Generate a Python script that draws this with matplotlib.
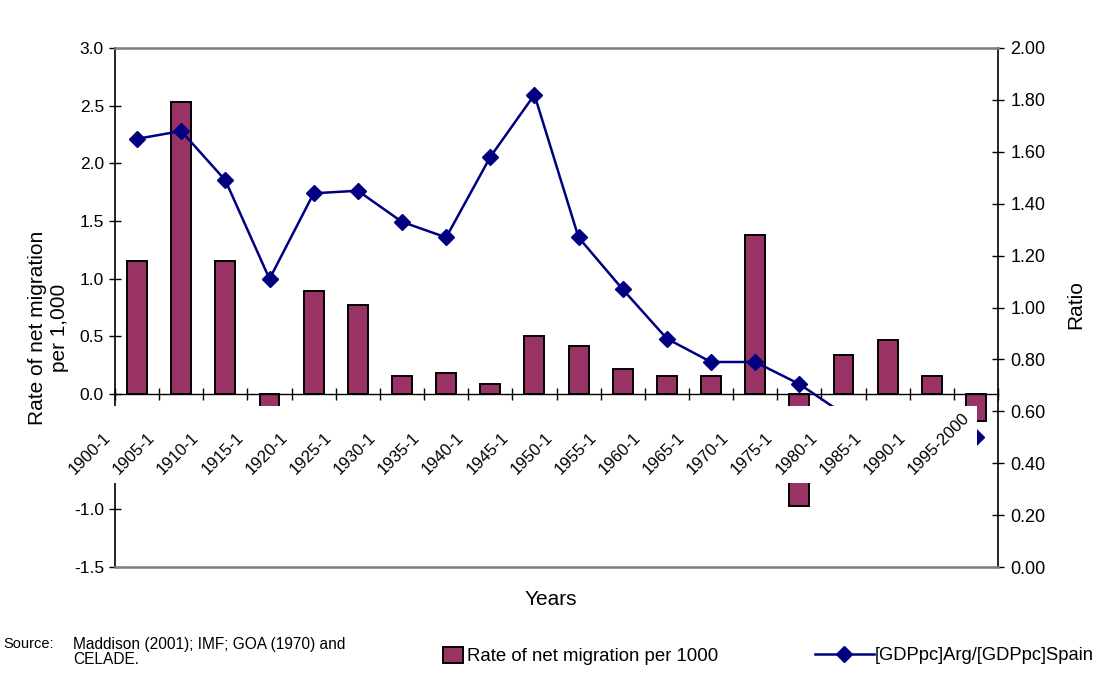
import matplotlib
matplotlib.use('Agg')
import matplotlib.pyplot as plt
from matplotlib.patches import Rectangle
import numpy as np

plt.rcParams['font.family'] = ['Liberation Sans', 'DejaVu Sans']

periods = ["1900-1", "1905-1", "1910-1", "1915-1", "1920-1", "1925-1", "1930-1",
           "1935-1", "1940-1", "1945-1", "1950-1", "1955-1", "1960-1", "1965-1",
           "1970-1", "1975-1", "1980-1", "1985-1", "1990-1", "1995-2000"]
migration = [1.15, 2.53, 1.15, -0.25, 0.89, 0.77, 0.16, 0.18, 0.09, 0.50,
             0.42, 0.22, 0.16, 0.16, 1.38, -0.97, 0.34, 0.47, 0.16, -0.23]
ratio = [1.65, 1.68, 1.49, 1.11, 1.44, 1.45, 1.33, 1.27, 1.58, 1.82,
         1.27, 1.07, 0.88, 0.79, 0.79, 0.705, 0.59, 0.50, 0.51, 0.50]
left_ticks = [-1.5, -1.0, -0.5, 0.0, 0.5, 1.0, 1.5, 2.0, 2.5, 3.0]
right_ticks = [0.0, 0.2, 0.4, 0.6, 0.8, 1.0, 1.2, 1.4, 1.6, 1.8, 2.0]

BAR = '#993366'
LINE = '#000080'
GRAY = '#808080'

W, H = 1101, 673
fig = plt.figure(figsize=(W / 100, H / 100), dpi=100)
pos = [115 / W, 1 - 567 / H, (998 - 115) / W, (567 - 48) / H]
ax = fig.add_axes(pos)

x = np.arange(len(periods))
bars = ax.bar(x, migration, width=0.45, color=BAR, edgecolor='black',
              linewidth=1.4, zorder=2, label='Rate of net migration per 1000')
ax.set_xlim(-0.5, len(periods) - 0.5)
ax.set_ylim(-1.5, 3.0)
ax.set_yticks(left_ticks)
ax.set_yticklabels([f"{v:.1f}" for v in left_ticks])
ax.spines['bottom'].set_position(('data', 0))
ax.spines['bottom'].set_color('black')
ax.spines['bottom'].set_linewidth(1.0)
ax.spines['left'].set_linewidth(1.2)
ax.spines['top'].set_visible(False)
ax.spines['right'].set_visible(False)
ax.set_xticks(np.arange(len(periods) + 1) - 0.5)
ax.set_xticklabels([])
ax.tick_params(axis='x', direction='inout', length=8, width=1)
ax.tick_params(axis='y', direction='inout', length=8, width=1,
               labelsize=12.5, pad=4)
ax.set_ylabel("Rate of net migration\nper 1,000", fontsize=15, linespacing=1.2)
ax.yaxis.set_label_coords(-0.052, 0.46)

ax2 = ax.twinx()
line, = ax2.plot(x, ratio, color=LINE, marker='D', markersize=8, linewidth=1.8,
                 label='[GDPpc]Arg/[GDPpc]Spain', zorder=3)
ax2.set_ylim(0, 2.0)
ax2.set_yticks(right_ticks)
ax2.set_yticklabels([f"{v:.2f}" for v in right_ticks])
ax2.spines['left'].set_visible(False)
ax2.spines['top'].set_color(GRAY)
ax2.spines['top'].set_linewidth(1.8)
ax2.spines['bottom'].set_color(GRAY)
ax2.spines['bottom'].set_linewidth(1.8)
ax2.spines['right'].set_color('black')
ax2.spines['right'].set_linewidth(1.2)
ax2.tick_params(axis='y', direction='inout', length=8, width=1,
                labelsize=13, pad=5)
ax2.set_ylabel("Ratio", fontsize=15, rotation=90)
ax2.yaxis.set_label_coords(1.077, 0.505)

# overlay: white label band with rotated category labels
ax3 = fig.add_axes(pos)
ax3.set_xlim(ax.get_xlim())
ax3.set_ylim(ax.get_ylim())
ax3.axis('off')
ax3.patch.set_visible(False)
ax3.add_patch(Rectangle((-1.70, -0.772), 19.03 + 1.70, 0.668,
                        facecolor='white', edgecolor='none', clip_on=False))
for i, lab in enumerate(periods):
    ax3.text(i - 1.36, -0.725, lab, rotation=45, rotation_mode='anchor',
             ha='left', va='bottom', fontsize=12, color='black')

ax.set_xlabel("Years", fontsize=15)
ax.xaxis.set_label_coords(0.494, -0.044)

fig.text(3 / W, 1 - 644 / H, "Source:", fontsize=10.5, va='center', ha='left')
fig.text(73 / W, 1 - 652 / H, "Maddison (2001); IMF; GOA (1970) and\nCELADE.",
         fontsize=11.2, va='center', ha='left', linespacing=1.0)

fig.legend(handles=[bars], labels=['Rate of net migration per 1000'],
           loc='center left', bbox_to_anchor=(443 / W, 1 - 656 / H),
           frameon=False, fontsize=13.4, handlelength=1.1, handleheight=1.0,
           handletextpad=0.2, borderpad=0, borderaxespad=0)
fig.legend(handles=[line], labels=['[GDPpc]Arg/[GDPpc]Spain'],
           loc='center left', bbox_to_anchor=(815 / W, 1 - 656 / H),
           frameon=False, fontsize=13.2, handlelength=3.2, numpoints=1,
           handletextpad=0.05, borderpad=0, borderaxespad=0)

fig.savefig('out.png', dpi=100)
